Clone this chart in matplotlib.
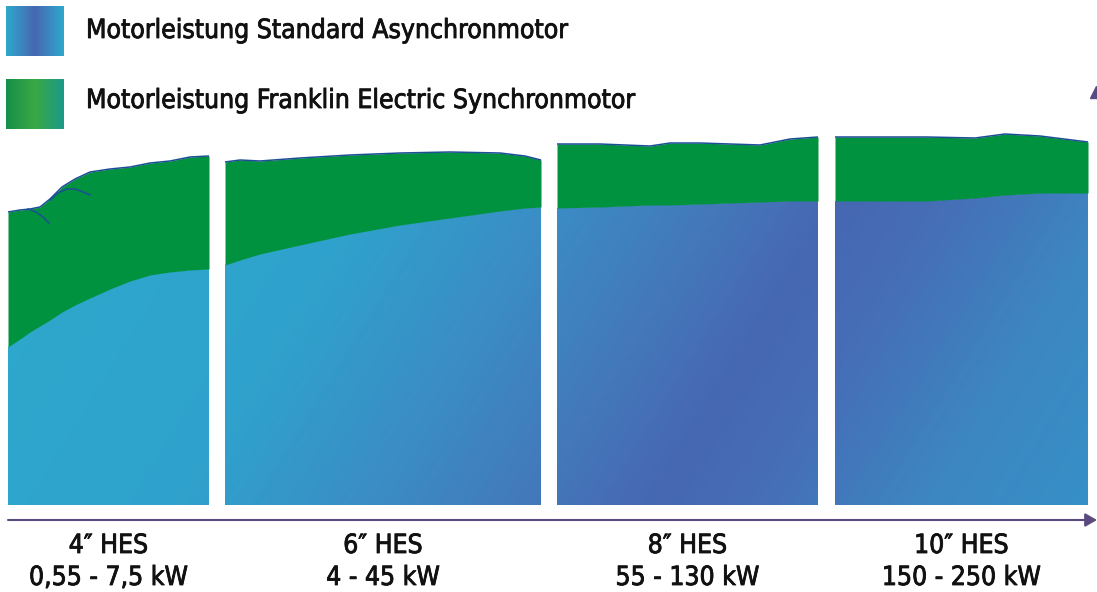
import numpy as np
import matplotlib
matplotlib.use('Agg')
import matplotlib.pyplot as plt
import matplotlib.patheffects as pe
from matplotlib.patches import Polygon
from matplotlib.colors import LinearSegmentedColormap

# panel extents along the axis (position units) and power levels (relative units, 0 = axis)
panel_labels = ['4\u2033 HES', '6\u2033 HES', '8\u2033 HES', '10\u2033 HES']
panel_ranges = ['0,55 - 7,5 kW', '4 - 45 kW', '55 - 130 kW', '150 - 250 kW']

p1_x = [8, 20, 30, 40, 50, 62, 75, 90, 110, 130, 150, 170, 190, 209]
p1_async = [158, 166, 173, 179, 185, 193, 200, 207, 216, 224, 230, 233, 235, 236]
p1_sync = [293, 295, 296, 298, 306, 318, 326, 333, 336, 338, 342, 344, 348, 349]

# the small overlapping curve ends in the 4" panel
p1_arc1_x = [28, 36, 43, 49]
p1_arc1_y = [296, 293, 288, 282]
p1_arc2_x = [50, 58, 67, 75, 83, 90]
p1_arc2_y = [305, 312, 316, 316, 313, 310]

p2_x = [225, 240, 260, 300, 350, 400, 450, 500, 525, 541]
p2_async = [240, 245, 251, 260, 271, 280, 287, 294, 297, 298]
p2_sync = [343, 345, 344, 347, 350, 352, 353, 352, 349, 345]

p3_x = [557, 600, 650, 670, 700, 760, 790, 818]
p3_async = [297, 298, 300, 300, 301, 303, 304, 304]
p3_sync = [361, 361, 359, 362, 362, 360, 366, 368]

p4_x = [835, 880, 927, 975, 1005, 1040, 1088]
p4_async = [304, 304, 304, 307, 310, 312, 312]
p4_sync = [368, 368, 368, 367, 371, 369, 363]

panels = [(p1_x, p1_async, p1_sync), (p2_x, p2_async, p2_sync),
          (p3_x, p3_async, p3_sync), (p4_x, p4_async, p4_sync)]

legend_labels = ['Motorleistung Standard Asynchronmotor',
                 'Motorleistung Franklin Electric Synchronmotor']

W, H = 1097, 592
BASE = 505  # pixel row of the axis baseline

fig = plt.figure(figsize=(W / 100, H / 100), dpi=100)
ax = fig.add_axes([0, 0, 1, 1])
ax.set_xlim(0, W)
ax.set_ylim(BASE - H, BASE)
ax.axis('off')

thick = [pe.withStroke(linewidth=0.6, foreground='#111111')]
font = dict(family='DejaVu Sans', fontstretch='condensed', color='#111111',
            path_effects=thick)

# diagonal blue gradient for the asynchronous areas
stops_u = [0, 300, 500, 650, 780, 900, 1050, 1250]
stops_c = ['#2ea8cd', '#2fa2cc', '#3b8cc5', '#4379bb', '#4767b2', '#4570b7', '#3d86c2', '#3592c8']
blue_cmap = LinearSegmentedColormap.from_list(
    'blue', [(u / stops_u[-1], c) for u, c in zip(stops_u, stops_c)])
xx, yy = np.meshgrid(np.arange(W), np.arange(H))
u = xx + 0.62 * (yy - 300)
grad = blue_cmap(np.clip(u / stops_u[-1], 0, 1))

green = '#00923f'
edge = '#1d4e96'

for xs, lo, hi in panels:
    xs = np.array(xs)
    lo = np.array(lo)
    hi = np.array(hi)
    verts = [(xs[0], 0)] + list(zip(xs, lo)) + [(xs[-1], 0)]
    poly = Polygon(verts, closed=True, facecolor='none', edgecolor='none')
    ax.add_patch(poly)
    im = ax.imshow(grad, extent=[0, W, BASE - H, BASE], origin='upper',
                   aspect='auto', zorder=1, interpolation='bilinear')
    im.set_clip_path(poly)
    ax.fill_between(xs, lo, hi, color=green, lw=0, zorder=2)
    ax.plot(xs, hi, color=edge, lw=1.1, zorder=3, solid_capstyle='butt')

ax.plot(p1_arc1_x, p1_arc1_y, color=edge, lw=1.1, zorder=3)
ax.plot(p1_arc2_x, p1_arc2_y, color=edge, lw=1.1, zorder=3)

# axis arrow
ax.annotate('', xy=(W, -15), xytext=(8, -15),
            arrowprops=dict(arrowstyle='-|>,head_length=0.7,head_width=0.4',
                            color='#5b4a7f', lw=1.5, shrinkA=0, shrinkB=0))
# tip of the vertical axis arrow, cut off at the right edge
ax.plot([W - 1], [BASE - 92], marker='^', ms=9, color='#5b4a7f', clip_on=True, zorder=3)

# category labels under each panel
for (xs, lo, hi), lab, rng in zip(panels, panel_labels, panel_ranges):
    cx = (xs[0] + xs[-1]) / 2
    ax.text(cx, -41, lab, ha='center', va='center', fontsize=19, **font)
    ax.text(cx, -73, rng, ha='center', va='center', fontsize=19, **font)

# legend with gradient swatches
leg_blue = LinearSegmentedColormap.from_list('lb', ['#2ea8cd', '#4767b2', '#2ea8cd'])
leg_green = LinearSegmentedColormap.from_list('lg', ['#15904a', '#3aa845', '#1c9a88'])
ramp = np.linspace(0, 1, 200)[None, :]
ax.imshow(ramp, cmap=leg_blue, extent=[6, 64, BASE - 56, BASE - 6], aspect='auto', zorder=2)
ax.imshow(ramp, cmap=leg_green, extent=[6, 64, BASE - 129, BASE - 79], aspect='auto', zorder=2)
ax.text(86, BASE - 31, legend_labels[0], ha='left', va='center', fontsize=19, **font)
ax.text(86, BASE - 101, legend_labels[1], ha='left', va='center', fontsize=19, **font)

ax.set_xlim(0, W)
ax.set_ylim(BASE - H, BASE)
fig.savefig('out.png', dpi=100)
